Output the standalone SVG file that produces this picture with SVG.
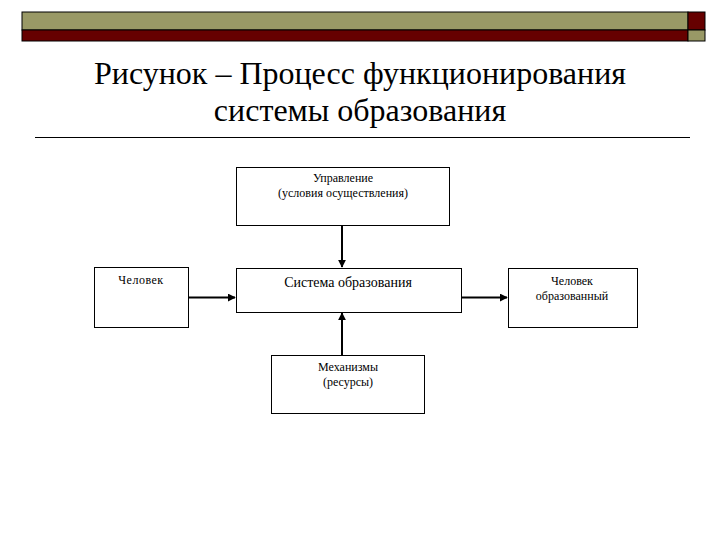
<svg xmlns="http://www.w3.org/2000/svg" width="720" height="540" viewBox="0 0 720 540">
<defs>
<style>
.box{fill:#fff;stroke:#000;stroke-width:1}
.t{font-family:"Liberation Serif",serif;fill:#000;text-anchor:middle}
.s{font-size:12px}
.c{stroke:#000;stroke-width:2;fill:none}
</style>
<marker id="ah" viewBox="0 0 10 10" refX="9" refY="5" markerWidth="4" markerHeight="4" orient="auto"><path d="M0,0 L10,5 L0,10 z" fill="#000"/></marker>
</defs>
<rect width="720" height="540" fill="#fff"/>
<rect x="22" y="12" width="666" height="18" fill="#999966" stroke="#000" stroke-width="1"/>
<rect x="22" y="30" width="666" height="11" fill="#660000" stroke="#000" stroke-width="1"/>
<rect x="688" y="12" width="17" height="18" fill="#660000" stroke="#000" stroke-width="1"/>
<rect x="688" y="30" width="17" height="11" fill="#999966" stroke="#000" stroke-width="1"/>
<text class="t" x="360" y="84" font-size="32">Рисунок – Процесс функционирования</text>
<text class="t" x="360" y="121" font-size="32">системы образования</text>
<line x1="35" y1="137.5" x2="690" y2="137.5" stroke="#000" stroke-width="1"/>
<g id="connectors">
<line class="c" x1="342" y1="225" x2="342" y2="267" marker-end="url(#ah)"/>
<line class="c" x1="188" y1="297.5" x2="235" y2="297.5" marker-end="url(#ah)"/>
<line class="c" x1="461" y1="297.5" x2="507" y2="297.5" stroke-width="1.2" marker-end="url(#ah)"/>
<line class="c" x1="342" y1="355" x2="342" y2="313" marker-end="url(#ah)"/>
</g>
<g id="upravlenie"><rect class="box" x="236.5" y="167.5" width="213" height="58"/>
<text class="t s" x="343" y="182">Управление</text><text class="t s" x="343" y="197">(условия осуществления)</text></g>
<g id="chelovek"><rect class="box" x="94.5" y="267.5" width="94" height="60"/>
<text class="t s" x="141" y="284" letter-spacing="0.5">Человек</text></g>
<g id="sistema"><rect class="box" x="236.5" y="268.5" width="225" height="44"/>
<text class="t" x="348" y="287" font-size="14">Система образования</text></g>
<g id="chelovek-obr"><rect class="box" x="508.5" y="268.5" width="129" height="59"/>
<text class="t s" x="572" y="285">Человек</text><text class="t s" x="572" y="300">образованный</text></g>
<g id="mehanizmy"><rect class="box" x="271.5" y="355.5" width="153" height="58"/>
<text class="t s" x="348" y="371">Механизмы</text><text class="t s" x="348" y="386">(ресурсы)</text></g>
</svg>
